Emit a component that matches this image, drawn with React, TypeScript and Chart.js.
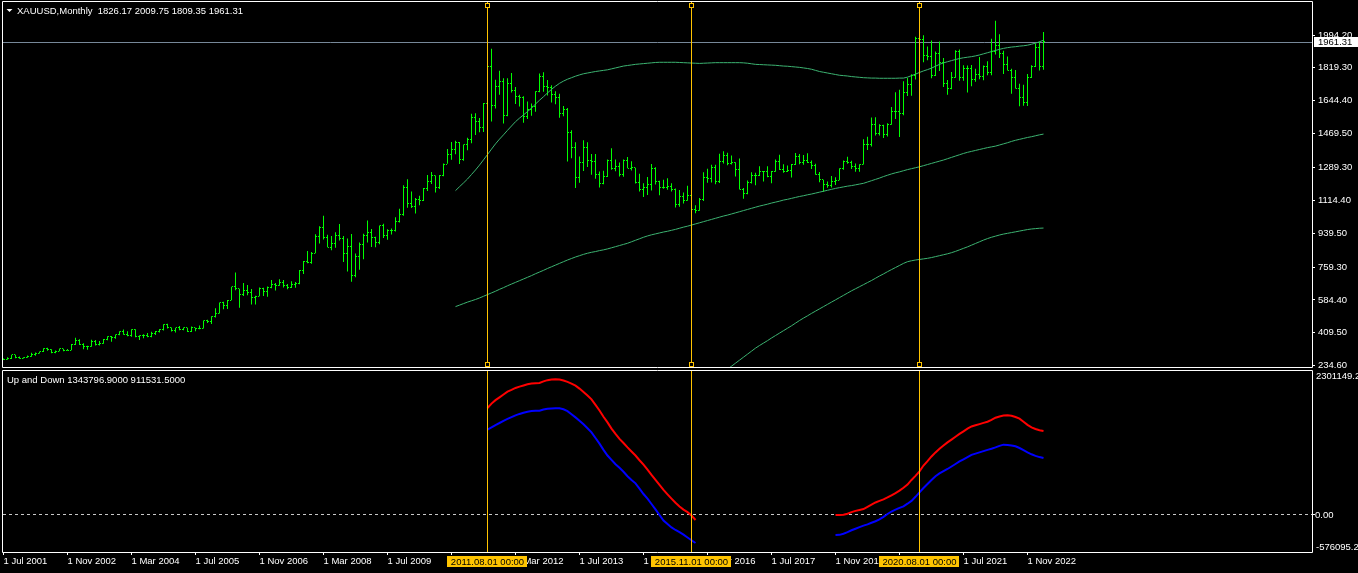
import React, { useEffect, useRef } from "react";
import { Chart, registerables } from "chart.js";

Chart.register(...registerables);

const FONT_FAMILY = '"Liberation Sans", Arial, sans-serif';
const FONT_SIZE = 9.5;
const BAR_COLOR = "#00ff00";
const MA_COLOR = "#3cb371";
const VLINE_COLOR = "#ffc400";
const BID_COLOR = "#778899";
const TEXT_COLOR = "#ffffff";

const symbolTitle = "XAUUSD,Monthly";
const indicatorName = "Up and Down";

// Monthly bars: index 0 = 2001.07 ... index 260 = 2023.03
const opens = [
  270.6, 265.8, 273.0, 293.1, 278.9, 275.5,
  278.7, 282.3, 296.8, 301.4, 308.2, 326.6, 318.5, 304.6, 312.8, 323.7, 316.9, 317.7,
  347.2, 367.5, 347.5, 334.9, 336.8, 361.4, 346.0, 354.8, 375.6, 388.0, 386.3, 398.4,
  416.1, 402.2, 396.3, 427.4, 387.5, 393.3, 394.8, 391.4, 408.2, 415.7, 429.2, 452.5,
  438.0, 422.4, 435.5, 428.5, 435.7, 417.3, 436.2, 429.9, 433.5, 473.3, 470.9, 495.7,
  513.0, 568.8, 556.5, 582.5, 654.5, 643.5, 613.5, 633.6, 623.6, 599.9, 603.8, 646.1,
  632.0, 650.5, 665.3, 661.8, 678.5, 659.1, 650.5, 665.5, 672.0, 743.0, 789.5, 783.5,
  834.0, 923.3, 971.5, 916.2, 865.0, 885.3, 928.3, 913.8, 833.0, 871.3, 717.0, 814.5,
  882.0, 927.5, 942.0, 916.5, 891.2, 978.8, 926.4, 954.0, 955.5, 1001.5, 1040.0, 1182.0,
  1096.0, 1081.0, 1118.3, 1115.5, 1179.3, 1213.8, 1245.5, 1181.0, 1247.5, 1307.5, 1357.5, 1386.0,
  1420.0, 1332.8, 1411.0, 1439.0, 1556.0, 1536.5, 1500.3, 1628.3, 1826.0, 1620.0, 1722.0, 1746.0,
  1565.8, 1737.8, 1696.3, 1668.5, 1663.3, 1560.0, 1599.0, 1614.0, 1691.0, 1772.1, 1719.1, 1713.5,
  1675.8, 1663.5, 1577.7, 1598.3, 1472.8, 1393.2, 1234.6, 1314.5, 1395.9, 1327.2, 1323.3, 1250.5,
  1201.6, 1240.0, 1326.4, 1283.8, 1295.7, 1250.0, 1327.1, 1282.4, 1287.4, 1208.2, 1171.7, 1183.3,
  1199.0, 1283.2, 1213.0, 1183.2, 1183.1, 1190.3, 1171.7, 1094.9, 1134.7, 1114.9, 1141.8, 1064.9,
  1060.0, 1118.1, 1237.9, 1232.6, 1290.8, 1214.7, 1321.7, 1350.8, 1309.1, 1315.8, 1276.6, 1173.4,
  1151.8, 1209.4, 1249.1, 1249.1, 1268.6, 1268.7, 1241.9, 1269.6, 1322.0, 1279.6, 1270.5, 1275.0,
  1302.9, 1345.1, 1318.3, 1324.7, 1315.6, 1298.4, 1253.2, 1223.9, 1200.8, 1191.8, 1214.6, 1222.4,
  1282.5, 1321.3, 1313.2, 1292.2, 1283.5, 1305.6, 1409.3, 1413.5, 1520.3, 1472.5, 1512.6, 1463.8,
  1517.1, 1589.2, 1585.7, 1577.2, 1686.5, 1730.3, 1780.9, 1975.9, 1967.8, 1886.9, 1879.9, 1776.9,
  1895.1, 1847.7, 1734.0, 1707.7, 1769.1, 1906.9, 1770.1, 1814.2, 1813.6, 1757.1, 1783.4, 1774.6,
  1829.2, 1795.9, 1908.9, 1937.4, 1896.9, 1837.4, 1807.3, 1765.9, 1711.0, 1660.6, 1633.6, 1768.5,
  1824.0, 1928.1, 1826.17,
];
const highs = [
  272.5, 280.0, 293.3, 293.2, 283.8, 280.0,
  288.8, 303.2, 304.2, 310.3, 327.8, 330.1, 322.4, 315.8, 326.6, 325.0, 322.9, 349.7,
  383.4, 375.6, 354.2, 341.0, 372.9, 371.2, 366.3, 376.5, 390.8, 393.0, 400.3, 417.9,
  427.3, 418.5, 428.1, 427.9, 396.5, 401.5, 408.5, 414.8, 419.3, 430.1, 455.8, 457.5,
  438.3, 436.2, 446.1, 438.3, 435.9, 443.4, 437.0, 448.0, 475.5, 479.6, 497.4, 540.9,
  571.4, 574.5, 584.1, 654.8, 730.4, 643.9, 675.1, 663.9, 642.4, 607.1, 650.9, 648.8,
  656.3, 690.0, 674.6, 694.8, 690.1, 669.0, 683.4, 679.4, 744.0, 791.3, 845.4, 839.0,
  934.0, 976.0, 1032.7, 932.0, 925.2, 944.3, 988.8, 924.5, 911.8, 935.7, 832.0, 889.6,
  937.0, 1006.8, 961.8, 921.2, 981.1, 989.7, 960.2, 964.6, 1024.0, 1070.3, 1195.0, 1226.6,
  1161.3, 1126.4, 1139.5, 1180.5, 1249.0, 1265.6, 1246.2, 1248.8, 1310.6, 1387.3, 1424.6, 1432.0,
  1424.5, 1411.5, 1447.0, 1575.8, 1577.4, 1552.7, 1632.0, 1912.0, 1921.0, 1756.5, 1804.0, 1764.0,
  1763.5, 1791.7, 1717.0, 1676.0, 1668.0, 1640.7, 1629.4, 1694.8, 1790.0, 1795.7, 1755.0, 1726.8,
  1694.7, 1681.3, 1616.6, 1605.6, 1487.8, 1423.2, 1348.0, 1433.6, 1424.2, 1361.3, 1361.3, 1267.9,
  1271.3, 1332.2, 1392.2, 1331.5, 1315.5, 1332.2, 1345.4, 1322.6, 1287.9, 1255.4, 1204.9, 1238.6,
  1307.5, 1290.7, 1219.3, 1224.2, 1232.4, 1205.3, 1178.0, 1170.0, 1156.3, 1191.6, 1142.5, 1088.5,
  1127.0, 1263.5, 1282.9, 1303.8, 1303.5, 1362.6, 1375.1, 1367.3, 1352.8, 1317.5, 1337.4, 1180.0,
  1220.1, 1264.0, 1261.8, 1295.4, 1270.7, 1296.0, 1270.7, 1331.9, 1357.6, 1306.8, 1299.8, 1307.3,
  1366.1, 1361.5, 1356.0, 1365.2, 1326.2, 1309.7, 1265.9, 1224.2, 1214.2, 1243.4, 1237.3, 1284.7,
  1326.2, 1346.8, 1324.6, 1310.6, 1306.0, 1439.0, 1452.9, 1555.2, 1557.1, 1518.9, 1516.4, 1525.0,
  1611.4, 1689.3, 1703.4, 1747.7, 1765.4, 1785.5, 1984.3, 2075.1, 1992.6, 1933.4, 1965.5, 1906.4,
  1959.3, 1871.6, 1755.3, 1797.9, 1912.9, 1916.6, 1832.6, 1832.4, 1834.0, 1814.0, 1877.2, 1831.6,
  1853.9, 1974.3, 2070.4, 1998.4, 1909.8, 1879.4, 1814.1, 1807.9, 1735.0, 1729.6, 1786.5, 1833.0,
  1949.2, 1959.8, 2009.75,
];
const lows = [
  264.8, 265.7, 270.6, 274.0, 271.5, 272.6,
  277.4, 281.7, 287.5, 299.1, 307.3, 314.8, 300.5, 301.3, 311.1, 311.5, 314.7, 316.6,
  344.5, 344.8, 322.8, 318.9, 334.8, 341.8, 342.1, 350.9, 369.6, 362.2, 378.3, 396.3,
  399.9, 391.6, 388.9, 385.5, 371.3, 381.0, 386.0, 385.8, 397.9, 410.8, 421.6, 432.5,
  416.9, 411.5, 423.7, 423.4, 414.0, 414.5, 417.3, 428.3, 432.4, 461.2, 456.9, 490.9,
  512.3, 535.4, 536.7, 582.5, 636.0, 542.9, 605.9, 609.8, 560.8, 560.8, 603.7, 606.1,
  602.0, 647.3, 634.6, 660.2, 651.3, 641.9, 648.4, 650.0, 667.5, 723.0, 780.0, 777.3,
  833.6, 885.0, 906.3, 864.5, 848.8, 862.0, 900.3, 786.2, 735.2, 681.0, 705.0, 744.7,
  801.5, 890.2, 865.8, 864.5, 880.7, 913.5, 905.3, 932.5, 949.2, 997.2, 1033.0, 1075.0,
  1073.6, 1045.1, 1088.0, 1110.6, 1164.2, 1201.3, 1156.4, 1175.1, 1242.0, 1308.6, 1330.8, 1360.0,
  1308.2, 1325.4, 1381.5, 1418.0, 1462.3, 1477.0, 1478.4, 1603.7, 1534.5, 1602.6, 1676.0, 1523.5,
  1562.0, 1688.4, 1627.0, 1613.6, 1527.0, 1547.0, 1564.8, 1585.8, 1689.2, 1692.0, 1672.7, 1635.1,
  1626.3, 1554.5, 1562.4, 1321.4, 1338.3, 1180.5, 1208.4, 1270.0, 1292.0, 1251.0, 1228.9, 1182.3,
  1200.4, 1238.7, 1277.5, 1268.6, 1240.7, 1240.2, 1284.8, 1273.0, 1204.6, 1161.4, 1131.9, 1142.8,
  1167.2, 1198.1, 1142.0, 1175.6, 1170.4, 1162.1, 1077.0, 1080.3, 1097.6, 1112.0, 1052.5, 1045.4,
  1059.6, 1110.5, 1208.6, 1208.8, 1199.6, 1207.1, 1310.6, 1301.4, 1305.2, 1241.2, 1171.5, 1122.9,
  1146.3, 1204.6, 1194.5, 1243.9, 1214.1, 1237.0, 1204.9, 1266.6, 1275.7, 1261.0, 1264.8, 1236.5,
  1302.3, 1307.1, 1303.3, 1313.8, 1281.8, 1250.3, 1211.2, 1160.3, 1180.8, 1182.6, 1196.3, 1221.0,
  1276.8, 1309.7, 1280.8, 1266.2, 1266.6, 1305.6, 1381.9, 1400.4, 1459.8, 1458.9, 1445.7, 1454.0,
  1517.0, 1547.5, 1451.0, 1567.8, 1670.2, 1671.0, 1757.5, 1863.2, 1848.8, 1860.5, 1764.5, 1775.6,
  1802.6, 1717.2, 1676.9, 1705.5, 1766.3, 1750.8, 1750.3, 1687.8, 1721.7, 1746.1, 1758.9, 1753.1,
  1780.6, 1780.1, 1890.2, 1872.3, 1787.0, 1805.0, 1681.0, 1709.7, 1614.8, 1617.3, 1616.7, 1765.0,
  1823.7, 1804.7, 1809.35,
];
const closes = [
  265.8, 273.0, 293.1, 278.9, 275.5, 278.7,
  282.3, 296.8, 301.4, 308.2, 326.6, 318.5, 304.6, 312.8, 323.7, 316.9, 317.7, 347.2,
  367.5, 347.5, 334.9, 336.8, 361.4, 346.0, 354.8, 375.6, 388.0, 386.3, 398.4, 416.1,
  402.2, 396.3, 427.4, 387.5, 393.3, 394.8, 391.4, 408.2, 415.7, 429.2, 452.5, 438.0,
  422.4, 435.5, 428.5, 435.7, 417.3, 436.2, 429.9, 433.5, 473.3, 470.9, 495.7, 513.0,
  568.8, 556.5, 582.5, 654.5, 643.5, 613.5, 633.6, 623.6, 599.9, 603.8, 646.1, 632.0,
  650.5, 665.3, 661.8, 678.5, 659.1, 650.5, 665.5, 672.0, 743.0, 789.5, 783.5, 834.0,
  923.3, 971.5, 916.2, 865.0, 885.3, 928.3, 913.8, 833.0, 871.3, 717.0, 814.5, 882.0,
  927.5, 942.0, 916.5, 891.2, 978.8, 926.4, 954.0, 955.5, 1001.5, 1040.0, 1182.0, 1096.0,
  1081.0, 1118.3, 1115.5, 1179.3, 1213.8, 1245.5, 1181.0, 1247.5, 1307.5, 1357.5, 1386.0, 1420.0,
  1332.8, 1411.0, 1439.0, 1556.0, 1536.5, 1500.3, 1628.3, 1826.0, 1620.0, 1722.0, 1746.0, 1565.8,
  1737.8, 1696.3, 1668.5, 1663.3, 1560.0, 1599.0, 1614.0, 1691.0, 1772.1, 1719.1, 1713.5, 1675.8,
  1663.5, 1577.7, 1598.3, 1472.8, 1393.2, 1234.6, 1314.5, 1395.9, 1327.2, 1323.3, 1250.5, 1201.6,
  1240.0, 1326.4, 1283.8, 1295.7, 1250.0, 1327.1, 1282.4, 1287.4, 1208.2, 1171.7, 1183.3, 1199.0,
  1283.2, 1213.0, 1183.2, 1183.1, 1190.3, 1171.7, 1094.9, 1134.7, 1114.9, 1141.8, 1064.9, 1060.0,
  1118.1, 1237.9, 1232.6, 1290.8, 1214.7, 1321.7, 1350.8, 1309.1, 1315.8, 1276.6, 1173.4, 1151.8,
  1209.4, 1249.1, 1249.1, 1268.6, 1268.7, 1241.9, 1269.6, 1322.0, 1279.6, 1270.5, 1275.0, 1302.9,
  1345.1, 1318.3, 1324.7, 1315.6, 1298.4, 1253.2, 1223.9, 1200.8, 1191.8, 1214.6, 1222.4, 1282.5,
  1321.3, 1313.2, 1292.2, 1283.5, 1305.6, 1409.3, 1413.5, 1520.3, 1472.5, 1512.6, 1463.8, 1517.1,
  1589.2, 1585.7, 1577.2, 1686.5, 1730.3, 1780.9, 1975.9, 1967.8, 1886.9, 1879.9, 1776.9, 1895.1,
  1847.7, 1734.0, 1707.7, 1769.1, 1906.9, 1770.1, 1814.2, 1813.6, 1757.1, 1783.4, 1774.6, 1829.2,
  1795.9, 1908.9, 1937.4, 1896.9, 1837.4, 1807.3, 1765.9, 1711.0, 1660.6, 1633.6, 1768.5, 1824.0,
  1928.1, 1826.9, 1961.31,
];

// Three green average lines (start bar index + one value per month)
const maUpperStart = 113;
const maUpper = [
  1166, 1187, 1207, 1228, 1252, 1276, 1302, 1330, 1358, 1387,
  1415, 1440, 1463, 1487, 1510, 1533, 1552, 1569, 1587, 1605,
  1627, 1647, 1666, 1686, 1705, 1722, 1737, 1749, 1759, 1767,
  1775, 1782, 1788, 1792, 1796, 1800, 1803, 1806, 1809, 1814,
  1819, 1824, 1829, 1832, 1835, 1838, 1840, 1842, 1844, 1846,
  1848, 1849, 1849, 1849, 1849, 1849, 1848, 1847, 1846, 1845,
  1844, 1843, 1844, 1845, 1846, 1847, 1847, 1847, 1847, 1847,
  1847, 1847, 1846, 1844, 1841, 1838, 1837, 1836, 1835, 1834,
  1833, 1831, 1829, 1828, 1826, 1824, 1822, 1819, 1816, 1812,
  1806, 1800, 1796, 1792, 1788, 1784, 1780, 1778, 1776, 1773,
  1771, 1769, 1767, 1766, 1765, 1765, 1764, 1764, 1764, 1764,
  1764, 1765, 1765, 1770, 1778, 1786, 1795, 1803, 1810, 1818,
  1828, 1838, 1846, 1852, 1858, 1864, 1869, 1873, 1876, 1879,
  1883, 1888, 1894, 1900, 1906, 1912, 1918, 1923, 1927, 1930,
  1932, 1935, 1937, 1940, 1945, 1951, 1958, 1967,
];
const maMiddleStart = 113;
const maMiddle = [
  549, 557, 565, 573, 580, 587, 595, 604, 613, 622,
  631, 641, 650, 660, 669, 678, 687, 696, 705, 714,
  724, 733, 742, 752, 761, 770, 779, 788, 797, 805,
  813, 820, 827, 833, 838, 842, 847, 851, 856, 862,
  868, 874, 880, 886, 894, 902, 910, 918, 925, 931,
  936, 941, 946, 950, 955, 960, 966, 972, 977, 983,
  989, 995, 1001, 1007, 1013, 1019, 1025, 1031, 1036, 1042,
  1048, 1054, 1060, 1066, 1072, 1078, 1084, 1089, 1094, 1100,
  1105, 1110, 1116, 1120, 1125, 1130, 1135, 1139, 1144, 1148,
  1153, 1158, 1163, 1168, 1173, 1178, 1182, 1186, 1190, 1193,
  1197, 1201, 1205, 1212, 1219, 1226, 1233, 1241, 1248, 1255,
  1261, 1266, 1272, 1278, 1283, 1288, 1293, 1299, 1305, 1311,
  1317, 1323, 1329, 1336, 1343, 1350, 1357, 1364, 1370, 1375,
  1380, 1385, 1390, 1395, 1399, 1403, 1409, 1415, 1421, 1428,
  1434, 1439, 1444, 1449, 1453, 1458, 1463, 1467,
];
const maLowerStart = 180;
const maLower = [
  200, 216, 232, 248, 264, 280, 296, 312, 328, 342,
  355, 368, 382, 395, 408, 421, 434, 447, 461, 475,
  488, 500, 513, 525, 537, 549, 561, 573, 585, 597,
  609, 621, 633, 644, 655, 666, 677, 688, 700, 712,
  723, 735, 746, 757, 768, 779, 788, 793, 797, 800,
  803, 806, 810, 815, 820, 825, 830, 836, 843, 851,
  859, 867, 876, 885, 894, 903, 911, 918, 924, 930,
  935, 939, 943, 947, 951, 955, 959, 962, 964, 966,
  967,
];

// "Up and Down" indicator, values in thousands
const segment1Start = 121;
const upSegment1 = [
  1710, 1780, 1835, 1880, 1925, 1972, 2000, 2030, 2051, 2070,
  2090, 2100, 2105, 2110, 2135, 2155, 2167, 2170, 2164, 2150,
  2128, 2100, 2068, 2020, 1966, 1910, 1848, 1760, 1670, 1570,
  1480, 1380, 1295, 1215, 1150, 1080, 1015, 950, 875, 804,
  725, 640, 560, 480, 400, 330, 262, 195, 135, 85,
  45, -10, -80,
];
const downSegment1 = [
  1364, 1400, 1437, 1470, 1505, 1535, 1565, 1592, 1615, 1635,
  1650, 1660, 1664, 1667, 1685, 1698, 1702, 1705, 1704, 1690,
  1660, 1610, 1560, 1507, 1450, 1385, 1320, 1230, 1140, 1040,
  950, 880, 810, 755, 690, 620, 560, 505, 420, 335,
  260, 175, 90, 0, -90, -145, -200, -240, -275, -315,
  -360, -405, -448,
];
const segment2Start = 208;
const upSegment2 = [
  0, 0, 3, 20, 45, 65, 80, 95, 130, 165,
  200, 225, 250, 280, 315, 350, 389, 435, 485, 560,
  625, 697, 790, 860, 935, 1000, 1060, 1110, 1160, 1204,
  1250, 1295, 1337, 1380, 1415, 1433, 1452, 1472, 1490, 1520,
  1555, 1575, 1588, 1592, 1585, 1565, 1539, 1490, 1440, 1400,
  1375, 1355, 1343.7969,
];
const downSegment2 = [
  -320, -318, -300, -275, -245, -220, -195, -170, -150, -125,
  -100, -70, -30, 15, 55, 85, 112, 138, 180, 225,
  290, 360, 430, 495, 560, 620, 665, 700, 735, 775,
  815, 855, 890, 925, 960, 980, 1000, 1020, 1040, 1058,
  1080, 1105, 1124, 1120, 1110, 1098, 1070, 1035, 1001, 970,
  945, 925, 911.5315,
];

const priceTicks = [234.6, 409.5, 584.4, 759.3, 939.5, 1114.4, 1289.3, 1469.5, 1644.4, 1819.3, 1994.2];
const timeTickBars = [0, 16, 32, 48, 64, 80, 96, 112, 128, 144, 160, 176, 192, 208, 224, 240, 256];
const timeTickLabels = [
  "1 Jul 2001", "1 Nov 2002", "1 Mar 2004", "1 Jul 2005", "1 Nov 2006", "1 Mar 2008",
  "1 Jul 2009", "1 Nov 2010", "1 Mar 2012", "1 Jul 2013", "1 Nov 2014", "1 Mar 2016",
  "1 Jul 2017", "1 Nov 2018", "1 Mar 2020", "1 Jul 2021", "1 Nov 2022",
];
const markerBars = [121, 172, 229];
const markerLabels = ["2011.08.01 00:00", "2015.11.01 00:00", "2020.08.01 00:00"];
const subMaxLabel = 2301149.2;
const subMinLabel = -576095.2;

const font = { family: FONT_FAMILY, size: FONT_SIZE };
const fontCss = `${FONT_SIZE}px ${FONT_FAMILY}`;

function zeroPadding(s: any) {
  s.paddingTop = 0;
  s.paddingBottom = 0;
  s.paddingLeft = 0;
  s.paddingRight = 0;
}

function drawMarkers(chart: any) {
  const { ctx, chartArea: a, scales } = chart;
  ctx.save();
  ctx.strokeStyle = VLINE_COLOR;
  ctx.lineWidth = 1;
  markerBars.forEach((b) => {
    const px = Math.floor(scales.x.getPixelForValue(b)) + 0.5;
    ctx.beginPath();
    ctx.moveTo(px, a.top);
    ctx.lineTo(px, a.bottom);
    ctx.stroke();
  });
  ctx.restore();
}

function drawBorder(chart: any) {
  const { ctx, chartArea: a } = chart;
  ctx.save();
  ctx.strokeStyle = "#ffffff";
  ctx.lineWidth = 1;
  ctx.beginPath();
  ctx.moveTo(a.left - 0.5, a.top - 0.5);
  ctx.lineTo(a.right + 0.5, a.top - 0.5);
  ctx.lineTo(a.right + 0.5, a.bottom + 0.5);
  ctx.lineTo(a.left - 0.5, a.bottom + 0.5);
  ctx.closePath();
  ctx.stroke();
  ctx.restore();
}

const mainDecor = {
  id: "mainDecor",
  beforeDraw(chart: any) {
    const { ctx, width, height } = chart;
    ctx.save();
    ctx.fillStyle = "#000000";
    ctx.fillRect(0, 0, width, height);
    ctx.restore();
  },
  beforeDatasetsDraw(chart: any) {
    const { ctx, chartArea: a, scales } = chart;
    const py = Math.ceil(scales.y.getPixelForValue(closes[closes.length - 1])) + 0.5;
    ctx.save();
    ctx.strokeStyle = BID_COLOR;
    ctx.lineWidth = 1;
    ctx.beginPath();
    ctx.moveTo(a.left, py);
    ctx.lineTo(a.right, py);
    ctx.stroke();
    ctx.restore();
  },
  afterDatasetsDraw(chart: any) {
    const { ctx, chartArea: a, scales } = chart;
    ctx.save();
    ctx.beginPath();
    ctx.rect(a.left, a.top, a.right - a.left, a.bottom - a.top);
    ctx.clip();
    ctx.fillStyle = BAR_COLOR;
    for (let i = 0; i < closes.length; i++) {
      const px = Math.floor(scales.x.getPixelForValue(i));
      ctx.fillRect(px - 1, Math.floor(scales.y.getPixelForValue(opens[i])), 1, 1);
      ctx.fillRect(px + 1, Math.floor(scales.y.getPixelForValue(closes[i])), 1, 1);
    }
    ctx.restore();
    drawMarkers(chart);
    // selection handles of the vertical lines
    ctx.save();
    markerBars.forEach((b) => {
      const px = Math.floor(scales.x.getPixelForValue(b));
      [a.top + 1, a.bottom - 5].forEach((ty) => {
        ctx.fillStyle = VLINE_COLOR;
        ctx.fillRect(px - 2, ty, 5, 5);
        ctx.fillStyle = "#000000";
        ctx.fillRect(px - 1, ty + 1, 3, 3);
      });
    });
    ctx.restore();
  },
  afterDraw(chart: any) {
    const { ctx, chartArea: a, scales, width } = chart;
    drawBorder(chart);
    const last = closes.length - 1;
    const p = Math.ceil(scales.y.getPixelForValue(closes[last]));
    ctx.save();
    ctx.fillStyle = "#ffffff";
    ctx.fillRect(a.right + 2, p - 5, width - a.right - 2, 10);
    ctx.fillStyle = "#000000";
    ctx.font = fontCss;
    ctx.textBaseline = "middle";
    ctx.textAlign = "left";
    ctx.fillText(closes[last].toFixed(2), a.right + 6, p + 0.5);
    // title
    ctx.fillStyle = TEXT_COLOR;
    ctx.beginPath();
    ctx.moveTo(6.5, 9);
    ctx.lineTo(12.5, 9);
    ctx.lineTo(9.5, 12);
    ctx.closePath();
    ctx.fill();
    ctx.textBaseline = "alphabetic";
    const title = `${symbolTitle}  ${opens[last].toFixed(2)} ${highs[last].toFixed(2)} ${lows[last].toFixed(2)} ${closes[last].toFixed(2)}`;
    ctx.fillText(title, 17, 13.5);
    ctx.restore();
  },
};

const subDecor = {
  id: "subDecor",
  beforeDraw(chart: any) {
    const { ctx, width, height } = chart;
    ctx.save();
    ctx.fillStyle = "#000000";
    ctx.fillRect(0, 0, width, height);
    ctx.restore();
  },
  beforeDatasetsDraw(chart: any) {
    const { ctx, chartArea: a, scales } = chart;
    const py = Math.floor(scales.y.getPixelForValue(0)) + 0.5;
    ctx.save();
    ctx.strokeStyle = "#c8c8c8";
    ctx.lineWidth = 1;
    ctx.setLineDash([3, 3]);
    ctx.beginPath();
    ctx.moveTo(a.left, py);
    ctx.lineTo(a.right, py);
    ctx.stroke();
    ctx.restore();
  },
  afterDatasetsDraw(chart: any) {
    drawMarkers(chart);
  },
  afterDraw(chart: any) {
    const { ctx, chartArea: a, scales } = chart;
    drawBorder(chart);
    const nU = upSegment2.length - 1;
    ctx.save();
    ctx.font = fontCss;
    ctx.fillStyle = TEXT_COLOR;
    ctx.textAlign = "left";
    ctx.textBaseline = "alphabetic";
    const head = `${indicatorName} ${(upSegment2[nU] * 1000).toFixed(4)} ${(downSegment2[nU] * 1000).toFixed(4)}`;
    ctx.fillText(head, 7, 13.5);
    // right scale labels
    const lx = a.right + 4;
    ctx.textBaseline = "top";
    ctx.fillText(subMaxLabel.toFixed(1), lx, scales.y.getPixelForValue(subMaxLabel) + 1);
    ctx.textBaseline = "middle";
    ctx.fillText((0).toFixed(2), lx - 1, scales.y.getPixelForValue(0) + 0.5);
    ctx.textBaseline = "alphabetic";
    ctx.fillText(subMinLabel.toFixed(1), lx, scales.y.getPixelForValue(subMinLabel) - 1.5);
    // time labels of the vertical lines
    markerBars.forEach((b, k) => {
      const px = Math.floor(scales.x.getPixelForValue(b)) + 0.5;
      ctx.fillStyle = VLINE_COLOR;
      ctx.fillRect(Math.floor(px) - 40, a.bottom + 4, 80, 11);
      ctx.fillStyle = "#000000";
      ctx.textAlign = "center";
      ctx.textBaseline = "middle";
      ctx.fillText(markerLabels[k], px, a.bottom + 10);
    });
    ctx.restore();
  },
};

export default function App() {
  const mainRef = useRef<HTMLCanvasElement>(null);
  const subRef = useRef<HTMLCanvasElement>(null);

  useEffect(() => {
    document.body.style.margin = "0";
    document.body.style.background = "#000";
    if (!mainRef.current || !subRef.current) return;

    const hl = closes.map((_, i) => ({ x: i, y: [lows[i], highs[i]] }));
    const line = (start: number, vals: number[]) => vals.map((v, k) => ({ x: start + k, y: v }));
    const sub = (s1: number[], s2: number[]) => [
      ...s1.map((v, k) => ({ x: segment1Start + k, y: v * 1000 })),
      { x: (segment1Start + s1.length + segment2Start) / 2, y: null },
      ...s2.map((v, k) => ({ x: segment2Start + k, y: v * 1000 })),
    ];

    const xMin = -0.125;
    const xMax = 1309 / 4 - 0.125;

    const main = new Chart(mainRef.current, {
      type: "bar",
      data: {
        datasets: [
          { type: "line", label: "MA upper", data: line(maUpperStart, maUpper), borderColor: MA_COLOR, borderWidth: 1, pointRadius: 0, order: 0 } as any,
          { type: "line", label: "MA middle", data: line(maMiddleStart, maMiddle), borderColor: MA_COLOR, borderWidth: 1, pointRadius: 0, order: 0 } as any,
          { type: "line", label: "MA lower", data: line(maLowerStart, maLower), borderColor: MA_COLOR, borderWidth: 1, pointRadius: 0, order: 0 } as any,
          { type: "bar", label: "XAUUSD", data: hl, backgroundColor: BAR_COLOR, borderWidth: 0, barThickness: 1, grouped: false, inflateAmount: 0, order: 1 } as any,
        ],
      },
      options: {
        responsive: false,
        animation: false,
        devicePixelRatio: 1,
        events: [],
        layout: { padding: { left: 3, top: 2, right: 0, bottom: 2 } },
        plugins: { legend: { display: false }, tooltip: { enabled: false } },
        scales: {
          x: { type: "linear", min: xMin, max: xMax, display: false, offset: false },
          y: {
            type: "linear",
            position: "right",
            min: 227.7,
            max: 2169.8,
            afterBuildTicks: (s: any) => { s.ticks = priceTicks.map((v) => ({ value: v })); },
            afterFit: (s: any) => { s.width = 46; zeroPadding(s); },
            grid: { display: true, drawOnChartArea: false, drawTicks: true, tickLength: 3, color: "#ffffff" },
            border: { display: false },
            ticks: { color: TEXT_COLOR, font, padding: 3, autoSkip: false, callback: (v: any) => Number(v).toFixed(2) },
          },
        },
      } as any,
      plugins: [mainDecor],
    });

    const subChart = new Chart(subRef.current, {
      type: "line",
      data: {
        datasets: [
          { label: "Up", data: sub(upSegment1, upSegment2), borderColor: "#ff0000", borderWidth: 2, pointRadius: 0, spanGaps: false } as any,
          { label: "Down", data: sub(downSegment1, downSegment2), borderColor: "#0000ff", borderWidth: 2, pointRadius: 0, spanGaps: false } as any,
        ],
      },
      options: {
        responsive: false,
        animation: false,
        devicePixelRatio: 1,
        events: [],
        layout: { padding: { left: 3, top: 2, right: 0, bottom: 0 } },
        plugins: { legend: { display: false }, tooltip: { enabled: false } },
        scales: {
          x: {
            type: "linear",
            position: "bottom",
            min: xMin,
            max: xMax,
            offset: false,
            afterBuildTicks: (s: any) => { s.ticks = timeTickBars.map((v) => ({ value: v })); },
            afterFit: (s: any) => { s.height = 21; zeroPadding(s); },
            grid: { display: true, drawOnChartArea: false, drawTicks: true, tickLength: 3, color: "#ffffff" },
            border: { display: false },
            ticks: { color: TEXT_COLOR, font, padding: 1, align: "start", autoSkip: false, maxRotation: 0, minRotation: 0, callback: (_v: any, i: number) => timeTickLabels[i] },
          },
          y: {
            type: "linear",
            position: "right",
            min: -592080,
            max: 2301149.2,
            afterBuildTicks: (s: any) => { s.ticks = [{ value: 0 }]; },
            afterFit: (s: any) => { s.width = 46; zeroPadding(s); },
            grid: { display: true, drawOnChartArea: false, drawTicks: true, tickLength: 3, color: "#ffffff" },
            border: { display: false },
            ticks: { display: false },
          },
        },
      } as any,
      plugins: [subDecor],
    });

    return () => {
      main.destroy();
      subChart.destroy();
    };
  }, []);

  return (
    <div style={{ position: "fixed", left: 0, top: 0, width: 1358, height: 573, background: "#000", overflow: "hidden" }}>
      <canvas ref={mainRef} width={1358} height={369} style={{ position: "absolute", left: 0, top: 0, display: "block" }} />
      <canvas ref={subRef} width={1358} height={204} style={{ position: "absolute", left: 0, top: 369, display: "block" }} />
    </div>
  );
}
